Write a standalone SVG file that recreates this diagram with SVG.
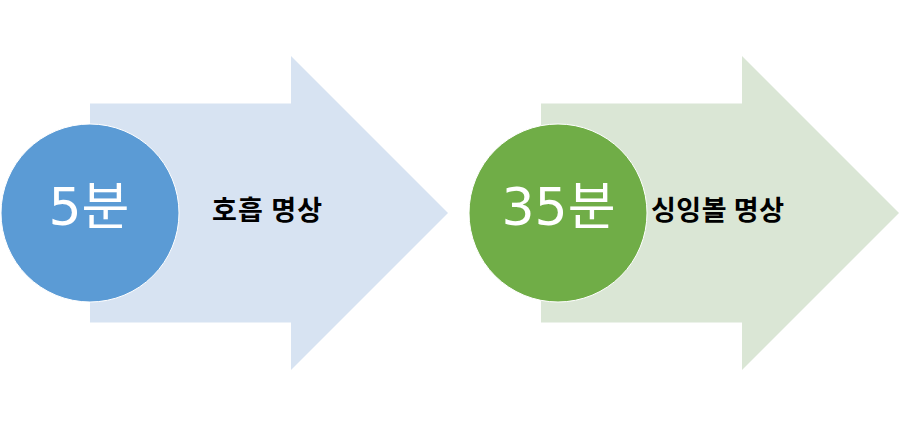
<svg xmlns="http://www.w3.org/2000/svg" width="916" height="426" viewBox="0 0 916 426">
<style>
.num{font-family:"DejaVu Sans","Noto Sans CJK KR",sans-serif;font-size:52px;fill:#FFFFFF;text-anchor:middle}
.lbl{font-family:"Noto Sans CJK KR","Noto Sans",sans-serif;font-size:27px;font-weight:bold;fill:#000000}
.circ{stroke:#FFFFFF;stroke-width:1}
</style>
<rect width="916" height="426" fill="#FFFFFF"/>
<g id="step1">
<polygon points="90,103.5 291,103.5 291,56 448,213 291,370 291,322.5 90,322.5" fill="#D7E3F2"/>
<circle class="circ" cx="90" cy="213" r="89" fill="#5B9BD5"/>
<text class="num" x="89" y="225">5분</text>
<text class="lbl" x="212" y="220" textLength="110" lengthAdjust="spacing">호흡 명상</text>
</g>
<g id="step2">
<polygon points="541,103.5 742,103.5 742,56 899,213 742,370 742,322.5 541,322.5" fill="#DAE6D5"/>
<circle class="circ" cx="558" cy="213" r="89" fill="#70AD47"/>
<text class="num" x="558.5" y="225">35분</text>
<text class="lbl" x="651" y="220" textLength="133" lengthAdjust="spacing">싱잉볼 명상</text>
</g>
<g id="connectors"></g>
</svg>
